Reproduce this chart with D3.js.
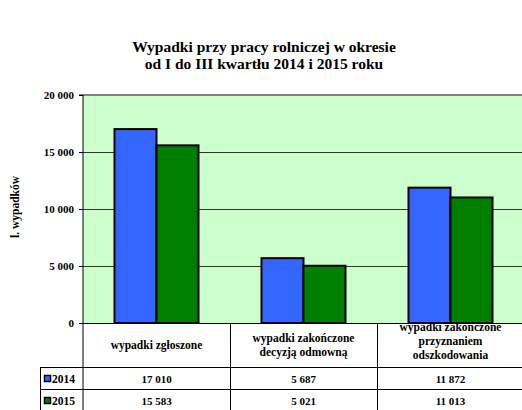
<!DOCTYPE html>
<html>
<head>
<meta charset="utf-8">
<script src="https://cdn.jsdelivr.net/npm/d3@7"></script>
<style>
body { margin: 0; background: #fff; }
svg text { font-family: "Liberation Serif", "Times New Roman", "DejaVu Serif", serif; font-weight: bold; }
</style>
</head>
<body>
<div id="chart"></div>
<script>
// data
var categories = ["wypadki zgłoszone", "wypadki zakończone decyzją odmowną", "wypadki zakończone przyznaniem odszkodowania"];
var categoryLines = [["wypadki zgłoszone"], ["wypadki zakończone", "decyzją odmowną"], ["wypadki zakończone", "przyznaniem", "odszkodowania"]];
var years = ["2014", "2015"];
var values2014 = [17010, 5687, 11872];
var values2015 = [15583, 5021, 11013];
var yTicks = [0, 5000, 10000, 15000, 20000];

var series = [
	{year: "2014", values: values2014},
	{year: "2015", values: values2015}
];

var width = 522, height = 410;
var plotLeft = 83, plotRight = 524, plotTop = 95, plotBottom = 323;

var svg = d3.select("#chart")
			.append("svg")
				.attr("width", width)
				.attr("height", height);

var color = d3.scaleOrdinal()
			.domain(years)
			.range(["#3366FF", "#008000"]);

var xScale = d3.scaleBand()
			.domain(categories)
			.range([plotLeft, plotRight]);

var xInner = d3.scaleBand()
			.domain(years)
			.range([0, 84]);

var yScale = d3.scaleLinear()
			.domain([0, 20000])
			.range([plotBottom, plotTop]);

var fmt = function(v){ return d3.format(",")(v).replace(/,/g, " "); };

// title
svg.append("text")
	.attr("x", 264).attr("y", 52)
	.attr("text-anchor", "middle")
	.style("font-size", "15.5px")
	.text("Wypadki przy pracy rolniczej w okresie");
svg.append("text")
	.attr("x", 264).attr("y", 69)
	.attr("text-anchor", "middle")
	.style("font-size", "15.5px")
	.text("od I do III kwartłu 2014 i 2015 roku");

// plot area
svg.append("rect")
	.attr("x", plotLeft).attr("y", plotTop)
	.attr("width", plotRight - plotLeft).attr("height", plotBottom - plotTop)
	.attr("fill", "#CCFFCC");

svg.selectAll(".grid")
	.data(yTicks.filter(function(d){ return d > 0 && d < 20000; }))
	.enter()
	.append("line")
		.attr("x1", plotLeft).attr("x2", plotRight)
		.attr("y1", function(d){ return Math.round(yScale(d)) + 0.5; })
		.attr("y2", function(d){ return Math.round(yScale(d)) + 0.5; })
		.attr("stroke", "#333")
		.attr("stroke-width", 1);

svg.append("line")
	.attr("x1", plotLeft).attr("x2", plotRight)
	.attr("y1", plotTop).attr("y2", plotTop)
	.attr("stroke", "#808080")
	.attr("stroke-width", 2);

// bars
svg.selectAll(".group")
	.data(series)
	.enter()
	.append("g")
		.attr("fill", function(d){ return color(d.year); })
	.selectAll("rect")
	.data(function(d){ return d.values.map(function(v, i){ return {year: d.year, value: v, cat: categories[i]}; }); })
	.enter()
	.append("rect")
		.attr("x", function(d){ return xScale(d.cat) + (xScale.bandwidth() - 84) / 2 + xInner(d.year); })
		.attr("y", function(d){ return yScale(d.value); })
		.attr("width", xInner.bandwidth())
		.attr("height", function(d){ return plotBottom - yScale(d.value); })
		.attr("stroke", "#000")
		.attr("stroke-width", 2);

// y axis
var yAxis = svg.append("g")
	.attr("transform", "translate(" + plotLeft + ",0)")
	.call(d3.axisLeft(yScale).tickValues(yTicks).tickSize(4).tickFormat(fmt));
yAxis.attr("font-family", null);
yAxis.select(".domain").attr("stroke", "#000").attr("d", "M-4," + plotTop + "H0V" + height);
yAxis.selectAll("text")
	.style("font-size", "11px")
	.attr("x", -9);

svg.append("text")
	.attr("transform", "translate(19," + 207 + ") rotate(-90)")
	.attr("text-anchor", "middle")
	.style("font-size", "11.5px")
	.text("l. wypadków");

// data table
var rowTop = [323, 367, 389, 411];

svg.append("line")
	.attr("x1", plotLeft).attr("x2", plotRight)
	.attr("y1", plotBottom + 0.5).attr("y2", plotBottom + 0.5)
	.attr("stroke", "#000");

svg.selectAll(".hline")
	.data([rowTop[1], rowTop[2]])
	.enter()
	.append("line")
		.attr("x1", 40).attr("x2", plotRight)
		.attr("y1", function(d){ return d + 0.5; })
		.attr("y2", function(d){ return d + 0.5; })
		.attr("stroke", "#000");

svg.append("line")
	.attr("x1", 40.5).attr("x2", 40.5)
	.attr("y1", rowTop[1]).attr("y2", height)
	.attr("stroke", "#000");

svg.selectAll(".vline")
	.data(categories.slice(1))
	.enter()
	.append("line")
		.attr("x1", function(d){ return Math.round(xScale(d)) + 0.5; })
		.attr("x2", function(d){ return Math.round(xScale(d)) + 0.5; })
		.attr("y1", plotBottom).attr("y2", height)
		.attr("stroke", "#000");

// header labels
var firstBaseline = {1: 349, 2: 342, 3: 331};
svg.selectAll(".catlabel")
	.data(categories)
	.enter()
	.append("text")
		.attr("text-anchor", "middle")
		.style("font-size", "11.5px")
		.attr("transform", function(d, i){
			return "translate(" + (xScale(d) + xScale.bandwidth() / 2) + "," + firstBaseline[categoryLines[i].length] + ")";
		})
	.selectAll("tspan")
	.data(function(d, i){ return categoryLines[i]; })
	.enter()
	.append("tspan")
		.attr("x", 0)
		.attr("dy", function(d, i){ return i === 0 ? 0 : 14; })
		.text(function(d){ return d; });

// rows
var rows = svg.selectAll(".row")
	.data(series)
	.enter()
	.append("g")
		.attr("transform", function(d, i){ return "translate(0," + rowTop[i + 1] + ")"; });

rows.append("rect")
	.attr("x", 44.5).attr("y", 8.5)
	.attr("width", 6).attr("height", 6)
	.attr("fill", function(d){ return color(d.year); })
	.attr("stroke", "#000")
	.attr("stroke-width", 1.5);

rows.append("text")
	.attr("x", 52).attr("y", 16)
	.style("font-size", "11.5px")
	.text(function(d){ return d.year; });

rows.selectAll(".val")
	.data(function(d){ return d.values; })
	.enter()
	.append("text")
		.attr("x", function(d, i){ return xScale(categories[i]) + xScale.bandwidth() / 2; })
		.attr("y", 16)
		.attr("text-anchor", "middle")
		.style("font-size", "11px")
		.text(function(d){ return fmt(d); });
</script>
</body>
</html>
